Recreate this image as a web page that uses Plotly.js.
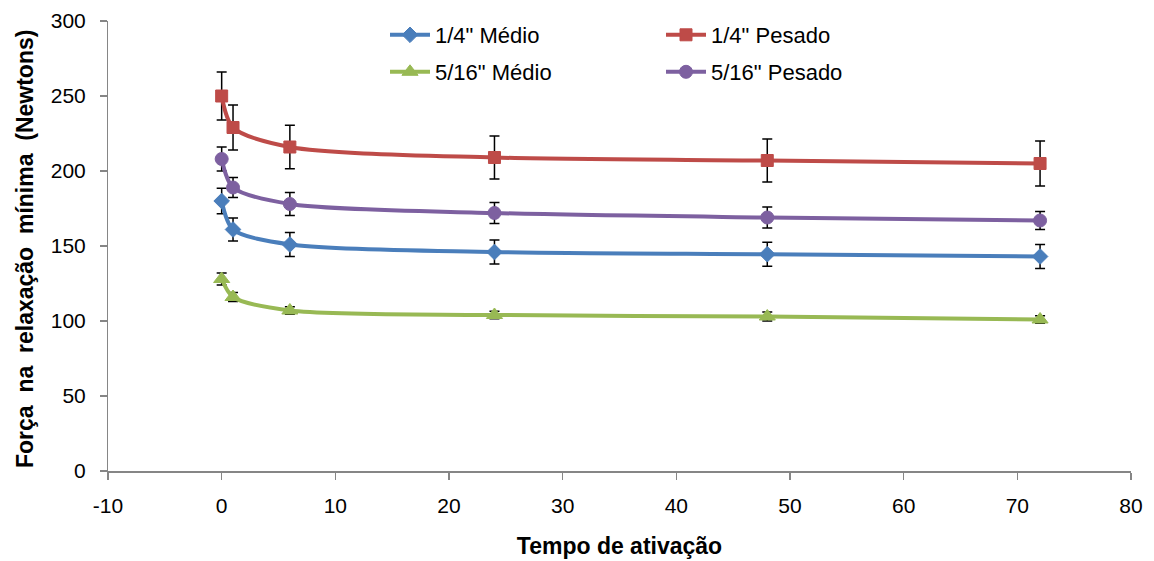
<!DOCTYPE html>
<html>
<head>
<meta charset="utf-8">
<script src="https://cdn.plot.ly/plotly-3.0.1.min.js"></script>
<style>html,body{margin:0;padding:0;background:#fff;}#chart{width:1154px;height:561px;}</style>
</head>
<body>
<div id="chart"></div>
<script>
const tempo = [0, 1, 6, 24, 48, 72];

const nomes = ['1/4" Médio', '1/4" Pesado', '5/16" Médio', '5/16" Pesado'];

const medio14 = [180, 161, 151, 146, 144.5, 143];
const medio14Err = [8.5, 7.7, 8, 8, 8, 8];

const pesado14 = [250, 229, 216, 209, 207, 205];
const pesado14Err = [16, 15, 14.5, 14.3, 14.3, 15];

const medio516 = [128, 116, 107, 104, 103, 101];
const medio516Err = [4, 3, 2.5, 2.5, 3, 2.5];

const pesado516 = [208, 189, 178, 172, 169, 167];
const pesado516Err = [8, 6.7, 7.7, 7, 7, 6];

const xTickVals = [-10, 0, 10, 20, 30, 40, 50, 60, 70, 80];
const xTickText = ['-10', '0', '10', '20', '30', '40', '50', '60', '70', '80'];

const tituloX = 'Tempo de ativação';
const tituloY = 'Força&nbsp; na&nbsp; relaxação&nbsp; mínima&nbsp; (Newtons)';

const cores = ['#4a7ebb', '#be4b48', '#98b954', '#7d60a0'];
const simbolos = ['diamond', 'square', 'triangle-up', 'circle'];
const tamanhos = [12, 12, 14, 13];
const valores = [medio14, pesado14, medio516, pesado516];
const erros = [medio14Err, pesado14Err, medio516Err, pesado516Err];
const legendas = ['legend', 'legend', 'legend2', 'legend2'];
const eixosY = ['y', 'y', 'y2', 'y'];

const traces = valores.map((v, i) => ({
  x: tempo,
  y: v,
  name: nomes[i],
  type: 'scatter',
  mode: 'lines+markers',
  yaxis: eixosY[i],
  legend: legendas[i],
  line: {color: cores[i], width: 4, shape: 'spline', smoothing: 0.8},
  marker: {symbol: simbolos[i], size: tamanhos[i], color: cores[i],
           line: {color: cores[i], width: 1}},
  error_y: {type: 'data', array: erros[i], visible: true, color: '#000000',
            thickness: 1.5, width: 5}
}));

const fonte = 'Liberation Sans, Arial, sans-serif';

const legendaBase = {
  orientation: 'h',
  x: (385 - 108) / 1023, xanchor: 'left', yanchor: 'middle',
  entrywidth: 221, entrywidthmode: 'pixels',
  bgcolor: 'rgba(0,0,0,0)', font: {family: fonte, size: 22},
  itemwidth: 40, tracegroupgap: 0
};

const layout = {
  width: 1154,
  height: 561,
  margin: {l: 108, r: 23, t: 21, b: 90},
  paper_bgcolor: '#ffffff',
  plot_bgcolor: '#ffffff',
  font: {family: fonte, size: 21, color: '#000000'},
  showlegend: true,
  legend: Object.assign({}, legendaBase, {y: (471 - 35) / 450}),
  legend2: Object.assign({}, legendaBase, {y: (471 - 72) / 450}),
  xaxis: {
    range: [-10, 80], tickvals: xTickVals, ticktext: xTickText,
    showgrid: false, zeroline: false,
    showline: true, linecolor: '#868686', linewidth: 1.5,
    ticks: 'outside', ticklen: 7, tickcolor: '#868686', tickwidth: 1.5,
    ticklabelstandoff: 8,
    tickfont: {family: fonte, size: 21},
    title: {text: '<b>' + tituloX + '</b>', font: {family: fonte, size: 23}, standoff: 22},
    automargin: false
  },
  yaxis: {
    range: [0, 300], dtick: 50, tick0: 0,
    showgrid: false, zeroline: false,
    showline: true, linecolor: '#868686', linewidth: 1.5,
    ticks: 'outside', ticklen: 7, tickcolor: '#868686', tickwidth: 1.5,
    showticklabels: false,
    automargin: false
  },
  yaxis2: {
    overlaying: 'y', side: 'left', anchor: 'x',
    range: [0, 300], dtick: 50, tick0: 0,
    showgrid: false, zeroline: false, showline: false,
    ticks: 'outside', ticklen: 17, tickcolor: 'rgba(0,0,0,0)',
    tickfont: {family: fonte, size: 21, color: '#000000'},
    automargin: false
  },
  annotations: [{
    text: '<b>' + tituloY + '</b>',
    xref: 'paper', yref: 'paper',
    x: (25 - 108) / 1023, y: (471 - 249) / 450,
    xanchor: 'center', yanchor: 'middle',
    textangle: -90, showarrow: false,
    font: {family: fonte, size: 23, color: '#000000'}
  }]
};

Plotly.newPlot('chart', traces, layout, {displayModeBar: false, staticPlot: true});
</script>
</body>
</html>
